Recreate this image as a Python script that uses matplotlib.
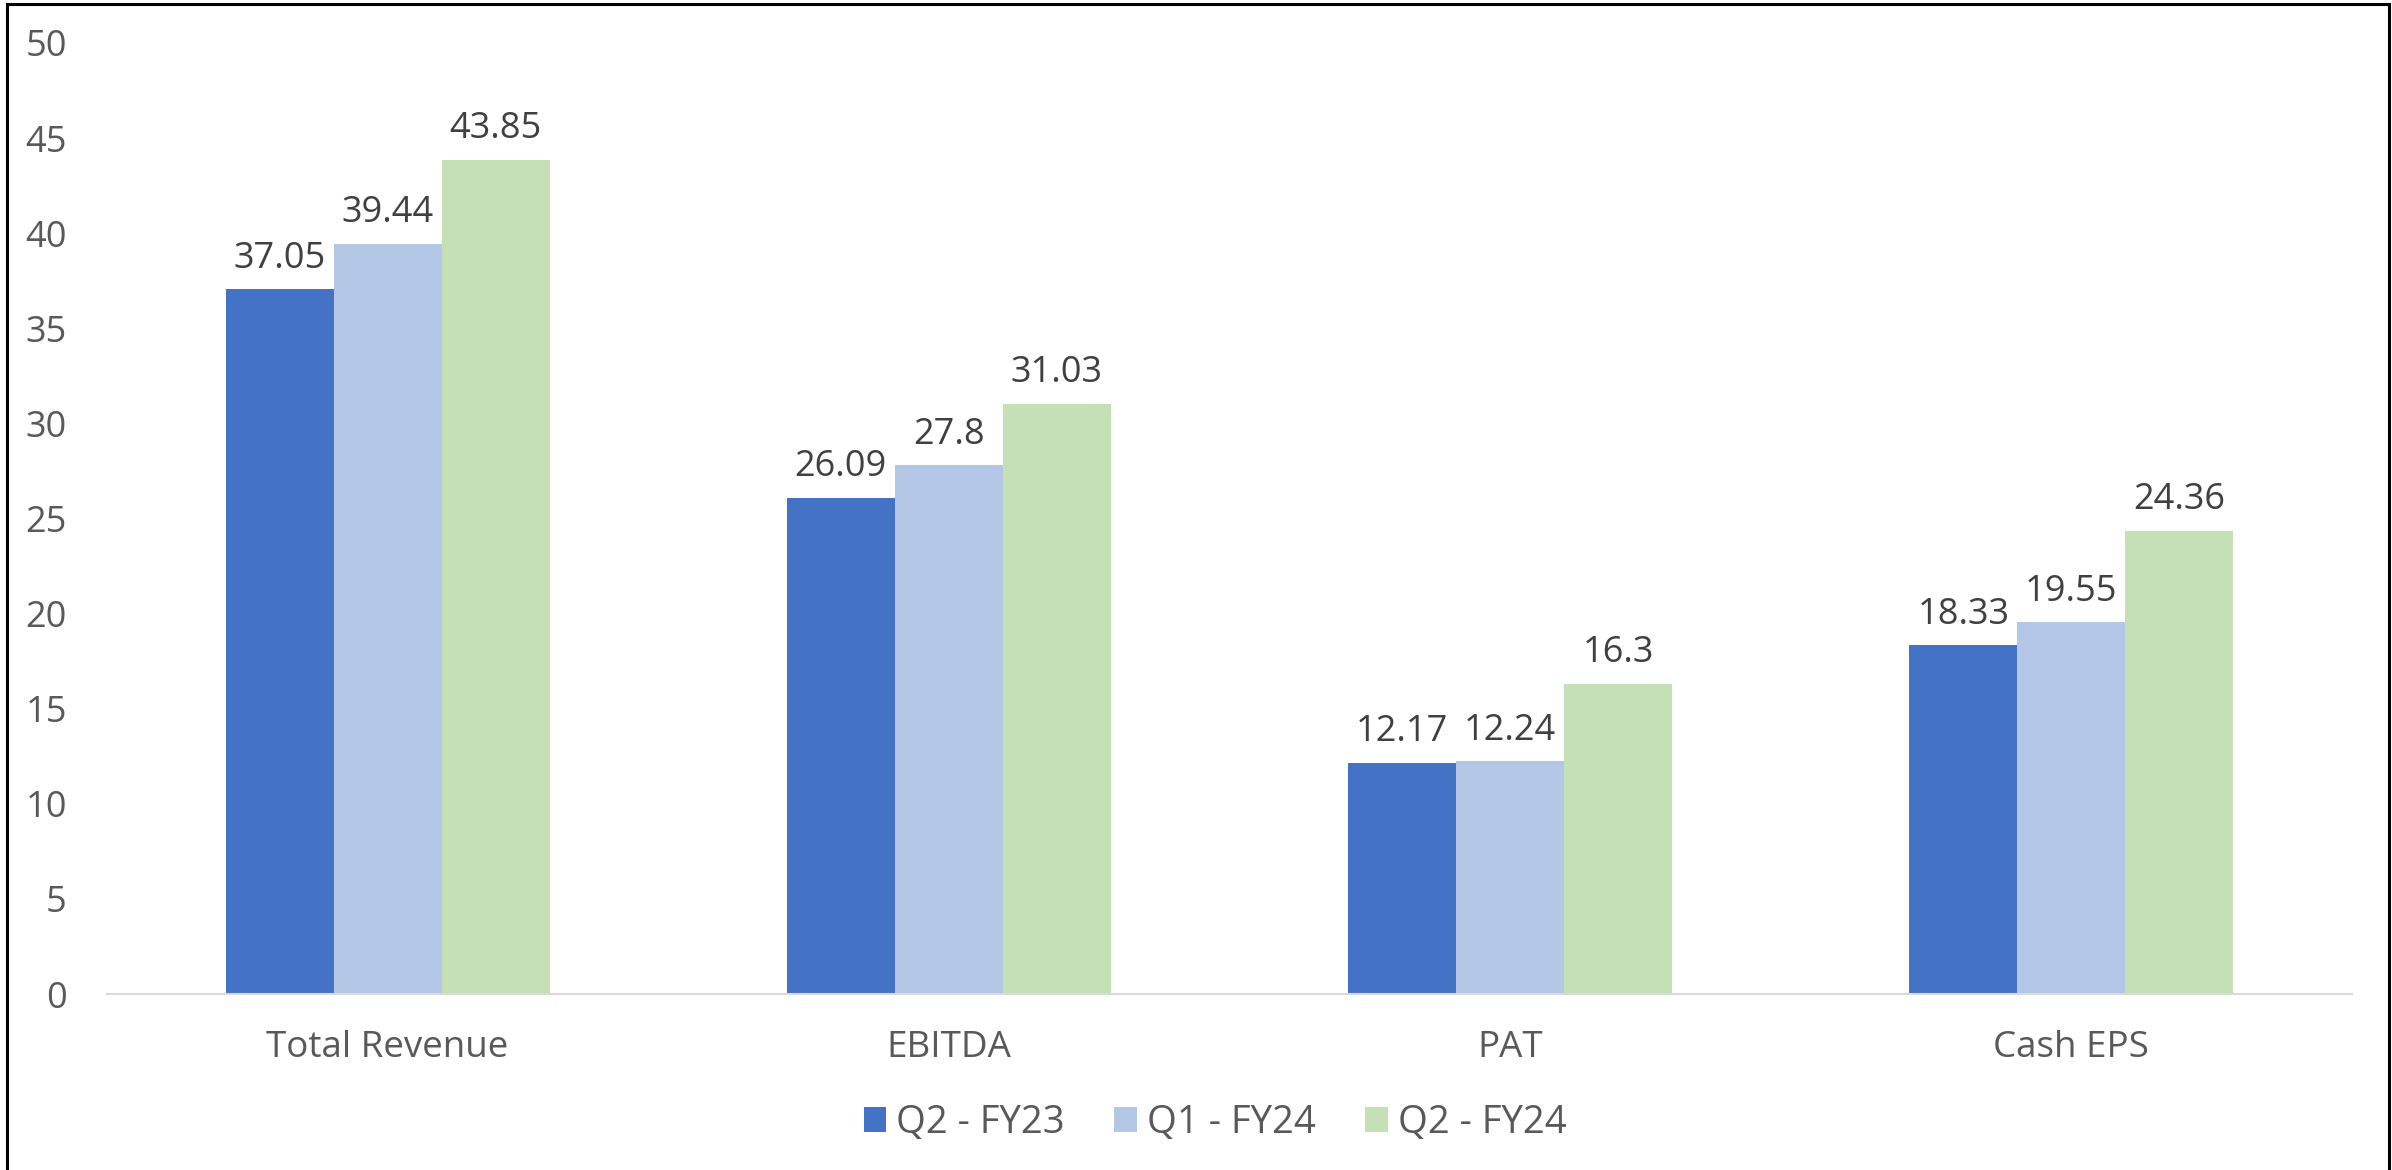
import numpy as np
import matplotlib.pyplot as plt
from matplotlib.patches import Rectangle

plt.rcParams['font.family'] = ['Open Sans', 'DejaVu Sans']

categories = ['Total Revenue', 'EBITDA', 'PAT', 'Cash EPS']
series = ['Q2 - FY23', 'Q1 - FY24', 'Q2 - FY24']
q2_fy23 = [37.05, 26.09, 12.17, 18.33]
q1_fy24 = [39.44, 27.8, 12.24, 19.55]
q2_fy24 = [43.85, 31.03, 16.3, 24.36]
colors = ['#4472C4', '#B4C7E7', '#C5E0B4']

W, H = 2392, 1170
fig = plt.figure(figsize=(W / 100, H / 100), dpi=100)
ax = fig.add_axes([107 / W, 1 - 994 / H, (2352 - 107) / W, (994 - 43) / H])

x = np.arange(len(categories))
bw = 0.1925
for i, (vals, name) in enumerate(zip([q2_fy23, q1_fy24, q2_fy24], series)):
    pos = x + (i - 1) * bw
    bars = ax.bar(pos, vals, width=bw, color=colors[i], label=name, zorder=2)
    for b, v in zip(bars, vals):
        ax.annotate(f'{v:g}', (b.get_x() + b.get_width() / 2, v),
                    xytext=(0, 9), textcoords='offset points',
                    ha='center', va='bottom', fontsize=26, color='#404040')

ax.set_xlim(-0.5, len(categories) - 0.5)
ax.set_ylim(0, 50)
ax.set_yticks(range(0, 51, 5))
ax.set_xticks(x)
ax.set_xticklabels(categories, fontsize=26.5)
for s in ['top', 'right', 'left']:
    ax.spines[s].set_visible(False)
ax.spines['bottom'].set_color('#D9D9D9')
ax.spines['bottom'].set_linewidth(1.5)
ax.tick_params(axis='both', length=0, labelcolor='#595959')
ax.tick_params(axis='y', pad=29, labelsize=26)
ax.tick_params(axis='x', pad=26)

leg = fig.legend(loc='center', bbox_to_anchor=(1215 / W, 1 - 1123 / H), ncol=3,
                 frameon=False, fontsize=27.5, handlelength=0.6, handleheight=0.6,
                 handletextpad=0.25, columnspacing=1.3)
for t in leg.get_texts():
    t.set_color('#595959')

# chart border
fig.patches.append(Rectangle((7 / W, -0.05), (2389 - 7) / W, 1.05 - 4 / H,
                             transform=fig.transFigure, fill=False,
                             edgecolor='black', linewidth=2.2))

fig.savefig('out.png', dpi=100)
